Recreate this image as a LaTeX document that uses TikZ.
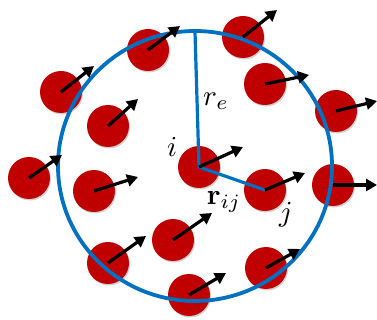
\documentclass[tikz,border=0pt]{standalone}
\usetikzlibrary{arrows.meta,shadows}
\definecolor{pred}{RGB}{192,0,0}
\definecolor{pblue}{RGB}{0,112,192}
\newcommand{\biglbl}[1]{\scalebox{2.9}{#1}}
\begin{document}
\begin{tikzpicture}[x=1pt,y=-1pt,
  particle/.style={circle,fill=pred,minimum size=42pt,inner sep=0pt,
    drop shadow={shadow xshift=1pt,shadow yshift=-1.5pt,opacity=0.3,fill=black!60}},
  vel/.style={line width=3.2pt,-{Triangle[length=11pt,width=12pt]}},
  bnd/.style={pblue,line width=3.8pt},
  lbl/.style={inner sep=0pt}]
\useasboundingbox (0,0) rectangle (377,320);
% particles
\node[particle] (p1) at (148,50) {};
\node[particle] (p2) at (243,37) {};
\node[particle] (p3) at (61,92) {};
\node[particle] (p4) at (108,126) {};
\node[particle] (p5) at (265,84) {};
\node[particle] (p6) at (336,111) {};
\node[particle] (pi) at (199,167) {};
\node[particle] (p8) at (29,178) {};
\node[particle] (p9) at (94,191) {};
\node[particle] (pj) at (265,190) {};
\node[particle] (p11) at (333,185) {};
\node[particle] (p12) at (173,240) {};
\node[particle] (p13) at (108,263) {};
\node[particle] (p14) at (266,268) {};
\node[particle] (p15) at (189,295) {};
% boundary circle
\coordinate (c0) at (195,166);
\draw[bnd] (c0) circle[x radius=137pt,y radius=135pt];
\coordinate (top) at (195,32);
\draw[bnd,line width=3.2pt,line join=round] (top) -- (pi.center) -- (pj.center);
% velocities
\coordinate (v1) at (180,26);
\coordinate (v2) at (277,10);
\coordinate (v3) at (94,66);
\coordinate (v4) at (138,99);
\coordinate (v5) at (309,75);
\coordinate (v6) at (377,101);
\coordinate (vi) at (243,147);
\coordinate (v8) at (62,155);
\coordinate (v9) at (138,177);
\coordinate (vj) at (305,173);
\coordinate (v11) at (377,185);
\coordinate (v12) at (212,213);
\coordinate (v13) at (146,236);
\coordinate (v14) at (300,249);
\coordinate (v15) at (226,273);
\foreach \p/\v in {p1/v1,p2/v2,p3/v3,p4/v4,p5/v5,p6/v6,pi/vi,p8/v8,p9/v9,pj/vj,p11/v11,p12/v12,p13/v13,p14/v14,p15/v15}
  \draw[vel] (\p.center) -- (\v);
% labels
\node[lbl] (lre) at (216,101) {\biglbl{$r_e$}};
\node[lbl] (li) at (172,147) {\biglbl{$i$}};
\node[lbl] (lrij) at (224,202) {\biglbl{$\mathbf{r}_{ij}$}};
\node[lbl] (lj) at (286,215) {\biglbl{$j$}};
\end{tikzpicture}
\end{document}
